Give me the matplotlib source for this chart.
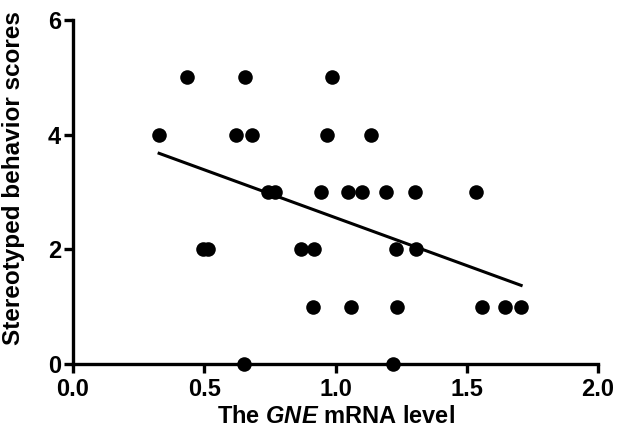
import numpy as np
import matplotlib
matplotlib.use("Agg")
import matplotlib.pyplot as plt

plt.rcParams['font.family'] = ['Liberation Sans', 'DejaVu Sans']
plt.rcParams['font.weight'] = 'bold'
plt.rcParams['mathtext.fontset'] = 'custom'
plt.rcParams['mathtext.it'] = 'Liberation Sans:bold:italic'
plt.rcParams['mathtext.rm'] = 'Liberation Sans:bold'

# GNE mRNA level vs stereotyped behavior scores
x_score5 = [0.433, 0.655, 0.988]
x_score4 = [0.328, 0.621, 0.681, 0.966, 1.135]
x_score3 = [0.744, 0.770, 0.943, 1.046, 1.100, 1.191, 1.304, 1.534]
x_score2 = [0.494, 0.516, 0.867, 0.919, 1.229, 1.307]
x_score1 = [0.914, 1.058, 1.233, 1.557, 1.646, 1.707]
x_score0 = [0.651, 1.218]

groups = [(5, x_score5), (4, x_score4), (3, x_score3),
          (2, x_score2), (1, x_score1), (0, x_score0)]
mrna = np.array([v for s, xs in groups for v in xs])
score = np.array([s for s, xs in groups for v in xs], dtype=float)

x_ticks = [0.0, 0.5, 1.0, 1.5, 2.0]
y_ticks = [0, 2, 4, 6]

fig = plt.figure(figsize=(6.17, 4.37), dpi=100)
ax = fig.add_axes([0.1183, 0.167, 0.851, 0.787])

ax.scatter(mrna, score, s=110, color='black', zorder=3, clip_on=False,
           linewidths=0)

# linear fit across the data range
k, b = np.polyfit(mrna, score, 1)
xl = np.array([mrna.min(), mrna.max()])
ax.plot(xl, k * xl + b, color='black', lw=2.2, zorder=2)

ax.set_xlim(0, 2)
ax.set_ylim(0, 6)
ax.set_xticks(x_ticks)
ax.set_xticklabels(['%.1f' % t for t in x_ticks])
ax.set_yticks(y_ticks)
ax.spines['top'].set_visible(False)
ax.spines['right'].set_visible(False)
for sp in ['left', 'bottom']:
    ax.spines[sp].set_linewidth(2.4)
ax.tick_params(direction='out', length=6.5, width=2.4, labelsize=17)
ax.tick_params(axis='x', pad=3.5)
ax.tick_params(axis='y', pad=2)

ax.set_xlabel('The $GNE$ mRNA level', fontsize=17, fontweight='bold', labelpad=3)
ax.set_ylabel('Stereotyped behavior scores', fontsize=17.5, fontweight='bold')
ax.yaxis.set_label_coords(-0.092, 0.54)

fig.savefig('out.png', dpi=100)
